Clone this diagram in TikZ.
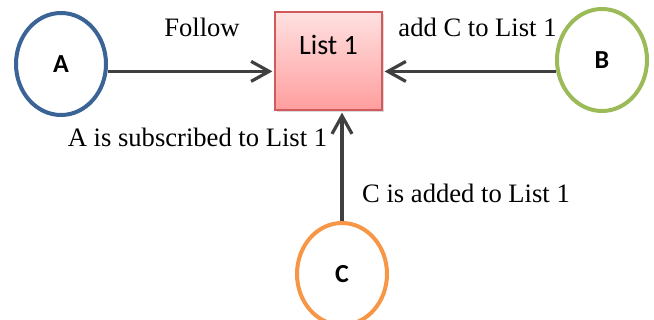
\documentclass[tikz,border=0pt]{standalone}
\usepackage{fontspec}
\setmainfont{Liberation Serif}
\newfontfamily\calfont{Carlito}
\usetikzlibrary{arrows.meta,shapes.geometric,shadows}
\definecolor{blueA}{HTML}{3A6396}
\definecolor{greenB}{HTML}{9BBB59}
\definecolor{orangeC}{HTML}{F79646}
\definecolor{linegray}{HTML}{404040}
\definecolor{pinktop}{HTML}{FFE1E1}
\definecolor{pinkbot}{HTML}{FF9E9E}
\definecolor{pinkline}{HTML}{D25A5A}

\begin{document}
\begin{tikzpicture}[x=0.5pt,y=-0.5pt,
	person/.style={draw,ellipse,line width=2pt,fill=white,minimum width=45pt,minimum height=51pt,inner sep=0pt,font=\calfont\fontsize{13}{15}\selectfont\bfseries},
	listbox/.style={draw=pinkline,rectangle,line width=0.6pt,top color=pinktop,bottom color=pinkbot,minimum width=53.5pt,minimum height=49pt,inner sep=0pt,text height=9pt,text depth=15pt,font=\calfont\fontsize{14}{16}\selectfont,drop shadow={shadow xshift=1pt,shadow yshift=-1pt,opacity=0.3}},
	trans/.style={line width=1.6pt,draw=linegray,-{Straight Barb[length=9pt,width=10pt,line width=1.6pt]},shorten >=1pt},
	lbl/.style={font=\fontsize{13.3}{16}\selectfont,inner sep=0pt}]
\useasboundingbox (0,0) rectangle (654,320);
\node[person,draw=blueA](A) at (61,64){A};
\node[person,draw=greenB](B) at (602,60){B};
\node[person,draw=orangeC](C) at (342,274){C};
\node[listbox](list) at (328.5,61){List 1};
	\draw[trans] (A.-9) -- (A.-9 -| list.west);
	\draw[trans] (B.194) -- (B.194 -| list.east);
	\draw[trans] (C.north) -- (C.north |- list.south);
\node[lbl](follow) at (202,27){Follow};
\node[lbl](addc) at (477.5,27){add C to List 1};
\node[lbl](subs) at (197.5,137){A is subscribed to List 1};
\node[lbl](added) at (466,193){C is added to List 1};
\end{tikzpicture}
\end{document}
